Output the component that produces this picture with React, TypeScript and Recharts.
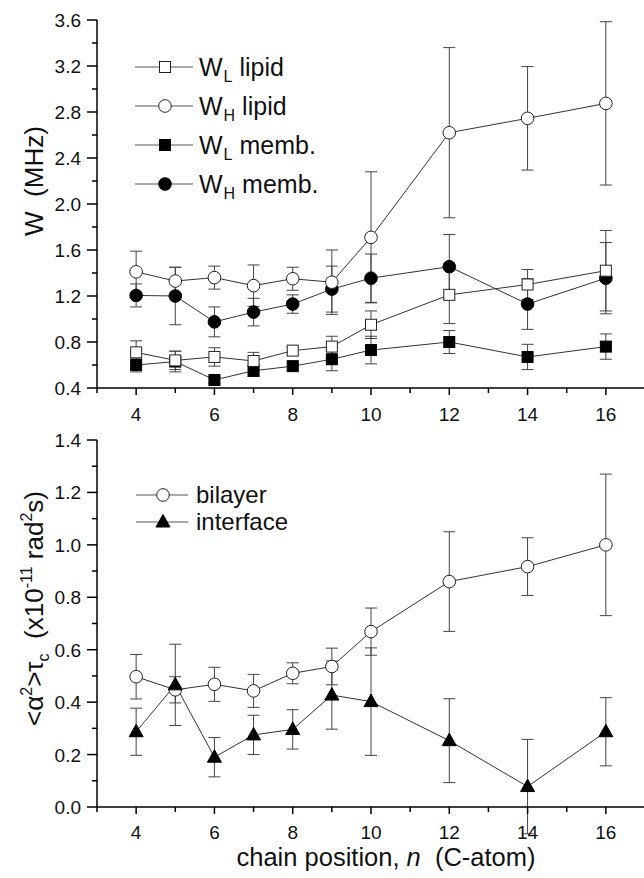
import React from "react";
import { LineChart, Line, XAxis, YAxis, ErrorBar, Legend } from "recharts";

const FONT = '"Liberation Sans", Arial, Helvetica, sans-serif';

// chain position of the spin label (C-atom)
const positions = [4, 5, 6, 7, 8, 9, 10, 12, 14, 16];

// upper panel: W (MHz)
const wlLipid = [0.71, 0.64, 0.67, 0.635, 0.725, 0.76, 0.95, 1.21, 1.3, 1.42];
const wlLipidErr = [0.1, 0.08, 0.08, 0.075, 0.03, 0.09, 0.12, 0.25, 0.13, 0.35];
const whLipid = [1.41, 1.33, 1.36, 1.29, 1.35, 1.32, 1.71, 2.62, 2.745, 2.875];
const whLipidErr = [0.18, 0.12, 0.1, 0.18, 0.1, 0.28, 0.57, 0.74, 0.45, 0.71];
const wlMemb = [0.6, 0.63, 0.47, 0.55, 0.59, 0.65, 0.73, 0.8, 0.67, 0.76];
const wlMembErr = [0.06, 0.09, 0.03, 0.05, 0.03, 0.1, 0.12, 0.1, 0.11, 0.11];
const whMemb = [1.205, 1.2, 0.975, 1.06, 1.13, 1.26, 1.355, 1.455, 1.13, 1.355];
const whMembErr = [0.1, 0.25, 0.13, 0.12, 0.08, 0.2, 0.21, 0.28, 0.22, 0.31];

// lower panel: <a^2> tau_c (x10^-11 rad^2 s)
const bilayer = [0.497, 0.447, 0.468, 0.443, 0.51, 0.536, 0.669, 0.86, 0.917, 1.0];
const bilayerErr = [0.085, 0.05, 0.065, 0.063, 0.04, 0.07, 0.09, 0.19, 0.11, 0.27];
const iface = [0.287, 0.466, 0.19, 0.275, 0.296, 0.427, 0.402, 0.253, 0.078, 0.287];
const ifaceErr = [0.09, 0.155, 0.075, 0.075, 0.075, 0.13, 0.205, 0.16, 0.18, 0.13];

const xTicks = [3, 4, 5, 6, 7, 8, 9, 10, 11, 12, 13, 14, 15, 16, 17];
const xLabels = [4, 6, 8, 10, 12, 14, 16];
const topMajor = [0.4, 0.8, 1.2, 1.6, 2.0, 2.4, 2.8, 3.2, 3.6];
const topMinor = [0.6, 1.0, 1.4, 1.8, 2.2, 2.6, 3.0, 3.4];
const botMajor = [0, 0.2, 0.4, 0.6, 0.8, 1.0, 1.2, 1.4];
const botMinor = [0.1, 0.3, 0.5, 0.7, 0.9, 1.1, 1.3];

const topData = positions.map((n, i) => ({
  n,
  wlLipid: wlLipid[i], wlLipidErr: wlLipidErr[i],
  whLipid: whLipid[i], whLipidErr: whLipidErr[i],
  wlMemb: wlMemb[i], wlMembErr: wlMembErr[i],
  whMemb: whMemb[i], whMembErr: whMembErr[i],
}));

const botData = positions.map((n, i) => ({
  n,
  bilayer: bilayer[i], bilayerErr: bilayerErr[i],
  iface: iface[i], ifaceErr: ifaceErr[i],
}));

// legend order; drawing order is filled first, open on top
const topSeries = [
  { key: "wlLipid", sub: "L", rest: "lipid", marker: "openSquare" },
  { key: "whLipid", sub: "H", rest: "lipid", marker: "openCircle" },
  { key: "wlMemb", sub: "L", rest: "memb.", marker: "filledSquare" },
  { key: "whMemb", sub: "H", rest: "memb.", marker: "filledCircle" },
];
const topDrawOrder = ["wlMemb", "whMemb", "wlLipid", "whLipid"];
const botSeries = [
  { key: "bilayer", label: "bilayer", marker: "openCircle" },
  { key: "iface", label: "interface", marker: "triangle" },
];

const Marker = ({ kind, cx, cy }: any) => {
  if (cx == null || cy == null) return null;
  switch (kind) {
    case "openSquare":
      return <rect x={cx - 5.5} y={cy - 5.5} width={11} height={11} fill="#fff" stroke="#222" strokeWidth={1} />;
    case "filledSquare":
      return <rect x={cx - 5.5} y={cy - 5.5} width={11} height={11} fill="#000" stroke="#000" strokeWidth={1} />;
    case "openCircle":
      return <circle cx={cx} cy={cy} r={6.3} fill="#fff" stroke="#222" strokeWidth={1} />;
    case "filledCircle":
      return <circle cx={cx} cy={cy} r={6.3} fill="#000" stroke="#000" strokeWidth={1} />;
    case "triangle":
      return <polygon points={`${cx},${cy - 7.5} ${cx - 7},${cy + 5} ${cx + 7},${cy + 5}`} fill="#000" stroke="#000" strokeWidth={1} />;
  }
  return null;
};

const axisStroke = { stroke: "#000", strokeWidth: 1.5 };

const makeXTickBottom = (labelDy: number) => (props: any) => {
  const { x, y, payload } = props;
  const v = payload.value;
  const major = v % 2 === 0;
  return (
    <g>
      <line x1={x} x2={x} y1={y} y2={y + (major ? 7 : 5)} stroke="#000" strokeWidth={1.5} />
      {xLabels.includes(v) && (
        <text x={x} y={y + labelDy} textAnchor="middle" fontSize={19} fontFamily={FONT} fill="#111">
          {v}
        </text>
      )}
    </g>
  );
};

const XTickTop = (props: any) => {
  const { x, y, payload } = props;
  const major = payload.value % 2 === 0;
  return <line x1={x} x2={x} y1={y} y2={y + (major ? 9 : 5)} stroke="#000" strokeWidth={1.5} />;
};

const makeYTickLeft = (major: number[]) => (props: any) => {
  const { x, y, payload } = props;
  const v = payload.value;
  const isMajor = major.includes(v);
  return (
    <g>
      <line x1={x} x2={x - (isMajor ? 10 : 5)} y1={y} y2={y} stroke="#000" strokeWidth={1.5} />
      {isMajor && (
        <text x={x - 16} y={y + 7} textAnchor="end" fontSize={19} fontFamily={FONT} fill="#111">
          {v.toFixed(1)}
        </text>
      )}
    </g>
  );
};

const makeYTickRight = (major: number[]) => (props: any) => {
  const { x, y, payload } = props;
  const isMajor = major.includes(payload.value);
  return <line x1={x} x2={x - (isMajor ? 9 : 4)} y1={y} y2={y} stroke="#000" strokeWidth={1.5} />;
};

const WTitle = (props: any) => {
  const vb = props.viewBox;
  const cx = vb.x + 43;
  const cy = vb.y + vb.height / 2 - 23;
  return (
    <text x={cx} y={cy} transform={`rotate(-90 ${cx} ${cy})`} textAnchor="middle" fontSize={26}
      fontFamily={FONT} fill="#111" style={{ whiteSpace: "pre" }}>
      {"W  (MHz)"}
    </text>
  );
};

const TauTitle = (props: any) => {
  const vb = props.viewBox;
  const cx = vb.x + 43;
  const cy = vb.y + vb.height / 2 - 15;
  const s = 16;
  return (
    <text x={cx} y={cy} transform={`rotate(-90 ${cx} ${cy})`} textAnchor="middle" fontSize={26}
      fontFamily={FONT} fill="#111" style={{ whiteSpace: "pre" }}>
      <tspan>{"<α"}</tspan>
      <tspan fontSize={s} dy={-11}>2</tspan>
      <tspan dy={11}>{">τ"}</tspan>
      <tspan fontSize={s} dy={6}>c</tspan>
      <tspan dy={-6}>{"  (x10"}</tspan>
      <tspan fontSize={s} dy={-11}>-11</tspan>
      <tspan dy={11}>{" rad"}</tspan>
      <tspan fontSize={s} dy={-11}>2</tspan>
      <tspan dy={11}>s)</tspan>
    </text>
  );
};

const XTitle = (props: any) => {
  const vb = props.viewBox;
  return (
    <text x={vb.x + vb.width / 2 + 15} y={vb.y + 59} textAnchor="middle" fontSize={25.5}
      fontFamily={FONT} fill="#111" style={{ whiteSpace: "pre" }}>
      {"chain position, "}
      <tspan fontStyle="italic">n</tspan>
      {"  (C-atom)"}
    </text>
  );
};

const LegendIcon = ({ kind, w, mx }: any) => (
  <svg width={w} height={20} style={{ display: "block", flex: "none" }}>
    <line x1={0} x2={w} y1={10} y2={10} stroke="#555" strokeWidth={1} />
    <Marker kind={kind} cx={mx} cy={10} />
  </svg>
);

const TopLegend = () => (
  <div style={{ fontFamily: FONT, fontSize: 25, color: "#111" }}>
    {topSeries.map((s) => (
      <div key={s.key} style={{ display: "flex", alignItems: "center", height: 39 }}>
        <LegendIcon kind={s.marker} w={58} mx={30} />
        <span style={{ marginLeft: 6, lineHeight: "26px", whiteSpace: "pre" }}>
          W<sub style={{ fontSize: 16, lineHeight: 0, marginLeft: 1 }}>{s.sub}</sub>{" " + s.rest}
        </span>
      </div>
    ))}
  </div>
);

const BotLegend = () => (
  <div style={{ fontFamily: FONT, fontSize: 24, color: "#111" }}>
    {botSeries.map((s) => (
      <div key={s.key} style={{ display: "flex", alignItems: "center", height: 27 }}>
        <LegendIcon kind={s.marker} w={52} mx={27} />
        <span style={{ marginLeft: 8, lineHeight: "26px" }}>{s.label}</span>
      </div>
    ))}
  </div>
);

const markerOf = (list: any[], key: string) => list.find((s) => s.key === key).marker;

export default function App() {
  return (
    <div style={{ position: "absolute", left: 0, top: 0, width: 644, height: 878, overflow: "hidden", background: "#fff" }}>
      <div style={{ position: "absolute", left: 0, top: 0 }}>
        <LineChart width={650} height={440} data={topData} margin={{ top: 20, right: 5, bottom: 0, left: 0 }}>
          <XAxis dataKey="n" type="number" domain={[3, 17]} allowDataOverflow ticks={xTicks} interval={0}
            height={52} tickSize={0} tickMargin={0} tickLine={false} axisLine={axisStroke} tick={makeXTickBottom(33)} />
          <XAxis xAxisId="top" orientation="top" dataKey="n" type="number" domain={[3, 17]} allowDataOverflow
            ticks={xTicks} interval={0} height={0} tickSize={0} tickMargin={0} tickLine={false}
            axisLine={axisStroke} tick={<XTickTop />} />
          <YAxis type="number" domain={[0.4, 3.6]} allowDataOverflow ticks={[...topMajor, ...topMinor].sort((a, b) => a - b)}
            interval={0} width={97} tickSize={0} tickMargin={0} tickLine={false} axisLine={axisStroke}
            tick={makeYTickLeft(topMajor)} label={<WTitle />} />
          <YAxis yAxisId="right" orientation="right" type="number" domain={[0.4, 3.6]} allowDataOverflow
            ticks={[...topMajor, ...topMinor].sort((a, b) => a - b)} interval={0} width={0} tickSize={0}
            tickMargin={0} tickLine={false} axisLine={axisStroke} tick={makeYTickRight(topMajor)} />
          {topDrawOrder.map((key) => (
            <Line key={key} dataKey={key} type="linear" stroke="#333" strokeWidth={1} isAnimationActive={false}
              activeDot={false}
              dot={(p: any) => <Marker key={`${key}-${p.index}`} kind={markerOf(topSeries, key)} cx={p.cx} cy={p.cy} />}>
              <ErrorBar dataKey={`${key}Err`} direction="y" width={6} stroke="#444" strokeWidth={1} />
            </Line>
          ))}
          <Legend layout="vertical" align="center" verticalAlign="middle" wrapperStyle={{ left: 135, top: 47 }}
            content={() => <TopLegend />} />
        </LineChart>
      </div>
      <div style={{ position: "absolute", left: 0, top: 420 }}>
        <LineChart width={650} height={458} data={botData} margin={{ top: 20, right: 5, bottom: 0, left: 0 }}>
          <XAxis dataKey="n" type="number" domain={[3, 17]} allowDataOverflow ticks={xTicks} interval={0}
            height={71} tickSize={0} tickMargin={0} tickLine={false} axisLine={axisStroke} tick={makeXTickBottom(32)}
            label={<XTitle />} />
          <XAxis xAxisId="top" orientation="top" dataKey="n" type="number" domain={[3, 17]} allowDataOverflow
            ticks={xTicks} interval={0} height={0} tickSize={0} tickMargin={0} tickLine={false}
            axisLine={axisStroke} tick={<XTickTop />} />
          <YAxis type="number" domain={[0, 1.4]} allowDataOverflow ticks={[...botMajor, ...botMinor].sort((a, b) => a - b)}
            interval={0} width={97} tickSize={0} tickMargin={0} tickLine={false} axisLine={axisStroke}
            tick={makeYTickLeft(botMajor)} label={<TauTitle />} />
          <YAxis yAxisId="right" orientation="right" type="number" domain={[0, 1.4]} allowDataOverflow
            ticks={[...botMajor, ...botMinor].sort((a, b) => a - b)} interval={0} width={0} tickSize={0}
            tickMargin={0} tickLine={false} axisLine={axisStroke} tick={makeYTickRight(botMajor)} />
          {botSeries.map((s) => (
            <Line key={s.key} dataKey={s.key} type="linear" stroke="#333" strokeWidth={1} isAnimationActive={false}
              activeDot={false}
              dot={(p: any) => <Marker key={`${s.key}-${p.index}`} kind={s.marker} cx={p.cx} cy={p.cy} />}>
              <ErrorBar dataKey={`${s.key}Err`} direction="y" width={6} stroke="#444" strokeWidth={1} />
            </Line>
          ))}
          <Legend layout="vertical" align="center" verticalAlign="middle" wrapperStyle={{ left: 136, top: 61 }}
            content={() => <BotLegend />} />
        </LineChart>
      </div>
    </div>
  );
}
